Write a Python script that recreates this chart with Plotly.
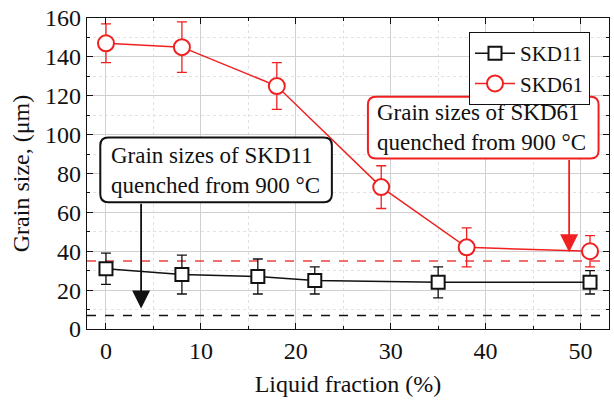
import plotly.graph_objects as go

# Data
liquid_skd11 = [0, 8, 16, 22, 35, 51]
grain_skd11 = [31, 28, 27, 25, 24, 24]
err_skd11 = [8, 10, 9, 7, 8, 6]

liquid_skd61 = [0, 8, 18, 29, 38, 51]
grain_skd61 = [147, 145, 125, 73, 42, 40]
err_skd61 = [10, 13, 12, 11, 10, 8]

quenched_skd11 = 7
quenched_skd61 = 35

x_ticks = [0, 10, 20, 30, 40, 50]
y_ticks = [0, 20, 40, 60, 80, 100, 120, 140, 160]

FONT = "Liberation Serif"
RED = "#f02020"
BLACK = "#111111"

fig = go.Figure()

# reference dashed lines
fig.add_trace(go.Scatter(x=[-2, 53], y=[quenched_skd61] * 2, mode="lines",
                         line=dict(color="#f04040", width=1.5, dash="dash"),
                         showlegend=False, hoverinfo="skip"))
fig.add_trace(go.Scatter(x=[-2, 53], y=[quenched_skd11] * 2, mode="lines",
                         line=dict(color=BLACK, width=1.5, dash="dash"),
                         showlegend=False, hoverinfo="skip"))

fig.add_trace(go.Scatter(
    x=liquid_skd11, y=grain_skd11, name="SKD11", mode="lines+markers",
    line=dict(color=BLACK, width=1.5),
    marker=dict(symbol="square", size=13, color="white", line=dict(color=BLACK, width=2)),
    error_y=dict(type="data", array=err_skd11, color=BLACK, thickness=1.3, width=5),
))
fig.add_trace(go.Scatter(
    x=liquid_skd61, y=grain_skd61, name="SKD61", mode="lines+markers",
    line=dict(color=RED, width=1.5),
    marker=dict(symbol="circle", size=16, color="white", line=dict(color=RED, width=2)),
    error_y=dict(type="data", array=err_skd61, color=RED, thickness=1.3, width=5),
))

# rounded boxes
px_x = 9.5   # pixels per x unit
px_y = 1.95  # pixels per y unit


def rounded(x0, x1, y0, y1, r=8):
    rx = r / px_x
    ry = r / px_y
    return (f"M {x0+rx},{y1} L {x1-rx},{y1} Q {x1},{y1} {x1},{y1-ry} "
            f"L {x1},{y0+ry} Q {x1},{y0} {x1-rx},{y0} L {x0+rx},{y0} "
            f"Q {x0},{y0} {x0},{y0+ry} L {x0},{y1-ry} Q {x0},{y1} {x0+rx},{y1} Z")


fig.add_shape(type="path", path=rounded(-0.6, 23.8, 65.2, 98.5), xref="x", yref="y",
              line=dict(color=BLACK, width=2), fillcolor="white", layer="above")
fig.add_shape(type="path", path=rounded(27.6, 51.9, 87.7, 119.5), xref="x", yref="y",
              line=dict(color=RED, width=2), fillcolor="white", layer="above")

fig.add_annotation(x=0.3, y=81.8, xref="x", yref="y", showarrow=False, xanchor="left",
                   text="Grain sizes of SKD11<br>quenched from 900 °C",
                   font=dict(family=FONT, size=23, color=BLACK), align="left")
fig.add_annotation(x=28.3, y=103.6, xref="x", yref="y", showarrow=False, xanchor="left",
                   text="Grain sizes of SKD61<br>quenched from 900 °C",
                   font=dict(family=FONT, size=23, color=BLACK), align="left")

# arrows
fig.add_annotation(x=3.7, y=10.5, ax=3.7, ay=65.2, xref="x", yref="y", axref="x", ayref="y",
                   text="", showarrow=True, arrowhead=2, arrowsize=2, arrowwidth=1.8,
                   arrowcolor=BLACK)
fig.add_annotation(x=48.8, y=39.5, ax=48.8, ay=87.7, xref="x", yref="y", axref="x", ayref="y",
                   text="", showarrow=True, arrowhead=2, arrowsize=2, arrowwidth=1.8,
                   arrowcolor=RED)

axis_common = dict(
    showline=True, linecolor=BLACK, linewidth=1.3, mirror="allticks",
    ticks="inside", ticklen=6, tickwidth=1, tickcolor=BLACK,
    showgrid=True, gridcolor="#d0d0d0", gridwidth=1, zeroline=False,
    tickfont=dict(family=FONT, size=24, color=BLACK), automargin=False,
)

fig.update_xaxes(range=[-2, 53], tickvals=x_ticks, **axis_common,
                 minor=dict(dtick=5, tick0=0, ticks="inside", ticklen=3, tickcolor=BLACK,
                            showgrid=True, gridcolor="#e2e2e2", griddash="dot"),
                 title=dict(text="Liquid fraction (%)", font=dict(family=FONT, size=24, color=BLACK),
                            standoff=12))
fig.update_yaxes(range=[0, 160], tickvals=y_ticks, **axis_common,
                 minor=dict(dtick=10, tick0=0, ticks="inside", ticklen=3, tickcolor=BLACK,
                            showgrid=True, gridcolor="#e2e2e2", griddash="dot"),
                 title=dict(text="Grain size, (μm)", font=dict(family=FONT, size=24, color=BLACK),
                            standoff=8))

fig.update_layout(
    width=614, height=400,
    margin=dict(l=87, r=5, t=18, b=71),
    paper_bgcolor="white", plot_bgcolor="white",
    font=dict(family=FONT, color=BLACK),
    legend=dict(x=0.9636, y=0.955, xanchor="right", yanchor="top",
                bgcolor="white", bordercolor=BLACK, borderwidth=1,
                font=dict(family=FONT, size=21, color=BLACK),
                tracegroupgap=0, itemwidth=40),
    showlegend=True,
)

fig.write_html("out.html", config={"displayModeBar": False},
               post_script="document.body.style.margin='0';")
